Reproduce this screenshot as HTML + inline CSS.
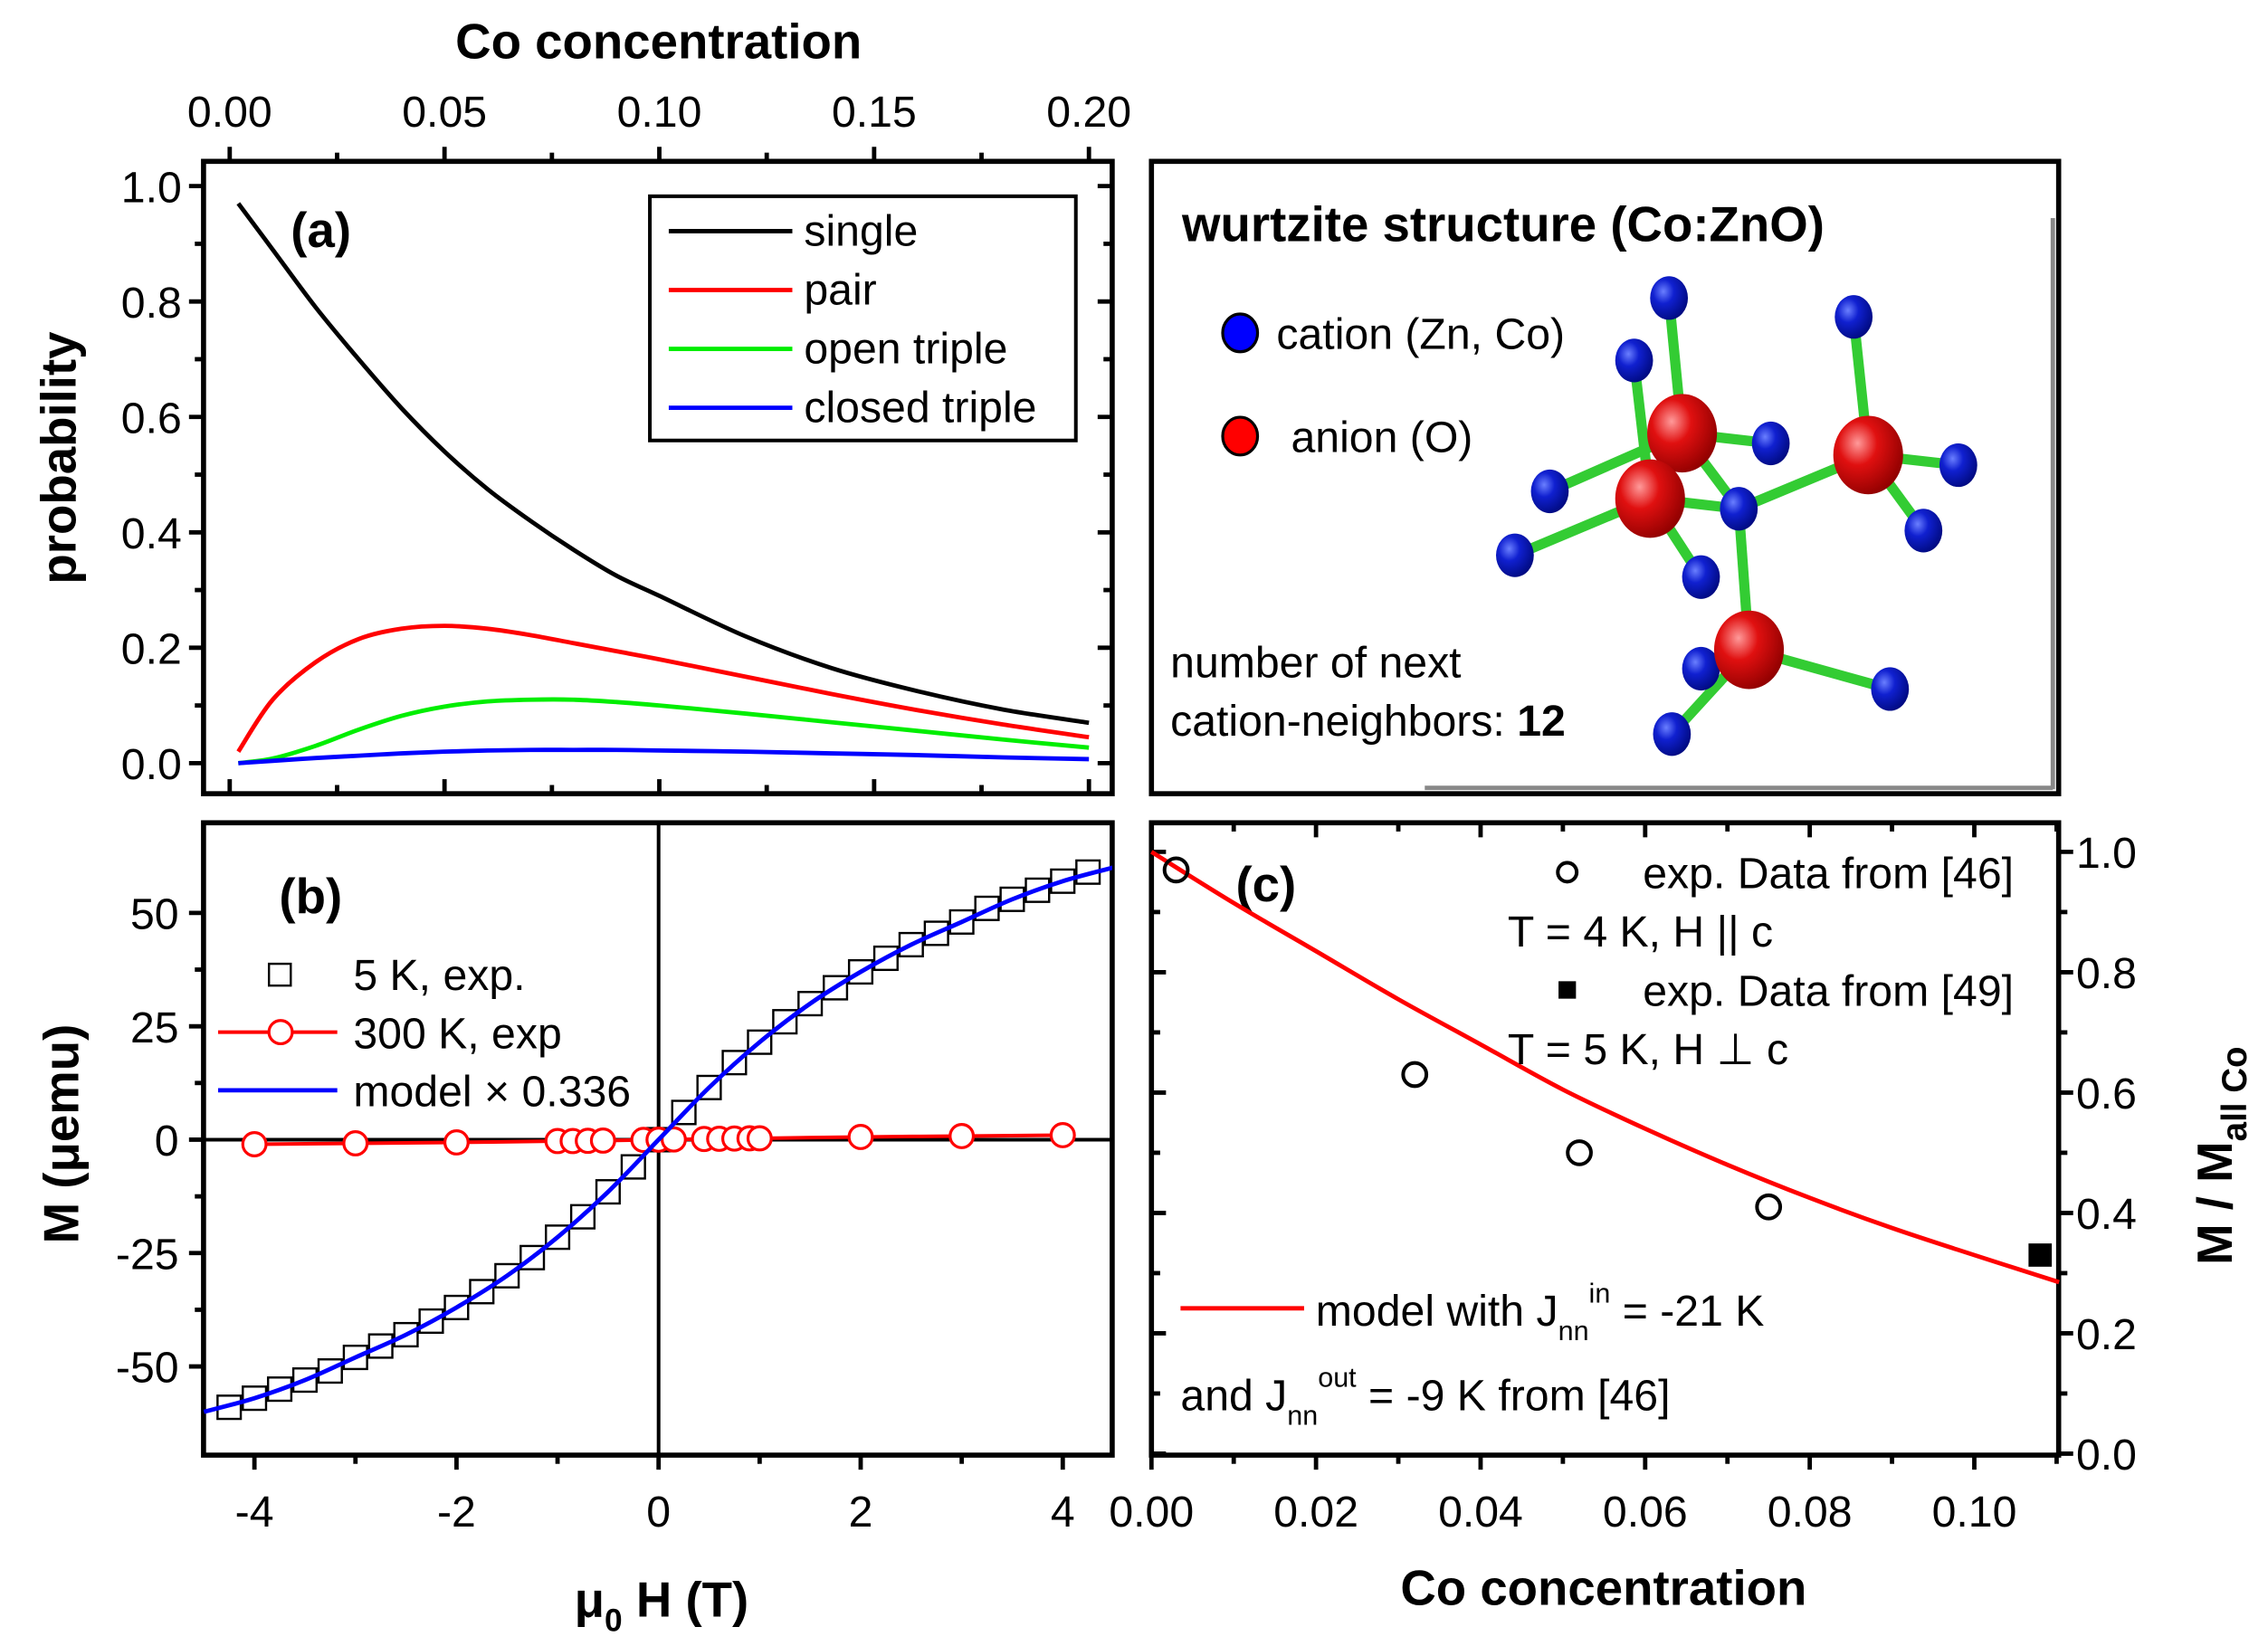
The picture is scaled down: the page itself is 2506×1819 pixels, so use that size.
<!DOCTYPE html>
<html><head><meta charset="utf-8"><style>
html,body{margin:0;padding:0;background:#fff}
svg{display:block}
text{font-family:"Liberation Sans",Arial,sans-serif;fill:#000}
.tk{font-size:30px}
.ti{font-size:34px;font-weight:bold}
.lg{font-size:30px}
</style></head><body>
<svg id="fig" xmlns="http://www.w3.org/2000/svg" width="2506" height="1819" viewBox="0 0 1560 1132.3" preserveAspectRatio="none">
<g id="gA"></g>
<g id="gS"></g>
<g id="gB"></g>
<g id="gC"></g>
</svg>
<script>
// ---------- Panel (a) data ----------
const aX = [0.002,0.01,0.02,0.03,0.04,0.05,0.06,0.07,0.08,0.09,0.10,0.12,0.14,0.16,0.18,0.20];
const aSingle = [0.97,0.89,0.79,0.70,0.615,0.54,0.475,0.42,0.37,0.325,0.29,0.22,0.165,0.125,0.093,0.07];
const aPair = [0.02,0.11,0.175,0.215,0.233,0.238,0.233,0.222,0.208,0.194,0.18,0.15,0.12,0.092,0.067,0.045];
const aOpen = [0.0,0.008,0.03,0.058,0.082,0.098,0.107,0.11,0.11,0.106,0.10,0.086,0.071,0.056,0.041,0.027];
const aClosed = [0,0.004,0.009,0.013,0.017,0.02,0.022,0.023,0.023,0.023,0.022,0.02,0.017,0.014,0.01,0.007];
const aXTicks = [0,0.05,0.10,0.15,0.20];
const aXTickLabels = ["0.00","0.05","0.10","0.15","0.20"];
const aYTicks = [0,0.2,0.4,0.6,0.8,1.0];
const aYTickLabels = ["0.0","0.2","0.4","0.6","0.8","1.0"];
// ---------- Panel (b) data ----------
const bSqH = [-4.25,-4,-3.75,-3.5,-3.25,-3,-2.75,-2.5,-2.25,-2,-1.75,-1.5,-1.25,-1,-0.75,-0.5,-0.25,0,0.25,0.5,0.75,1,1.25,1.5,1.75,2,2.25,2.5,2.75,3,3.25,3.5,3.75,4,4.25];
const bSqM = [-59,-57,-55,-53,-51,-48,-45.5,-43,-40,-37,-33.5,-30,-26,-21.5,-17,-11.5,-6,0,6,11.5,17,21.5,26,30,33.5,37,40,43,45.5,48,51,53,55,57,59];
const bModelH = [-4.5,-4,-3.5,-3,-2.5,-2,-1.5,-1,-0.5,0,0.5,1,1.5,2,2.5,3,3.5,4,4.5];
const bModelM = [-60,-57,-53,-48,-43,-37,-30,-21.5,-11.5,0,11.5,21.5,30,37,43,48,53,57,60];
const bCirH = [-4,-3,-2,-1,-0.85,-0.7,-0.55,-0.15,0,0.15,0.45,0.6,0.75,0.9,1,2,3,4];
const bCirM = [-1,-0.8,-0.6,-0.3,-0.3,-0.25,-0.2,-0.05,0,0.05,0.15,0.2,0.25,0.3,0.3,0.6,0.8,1];
const bXTicks = [-4,-2,0,2,4];
const bXTickLabels = ["-4","-2","0","2","4"];
const bYTicks = [-50,-25,0,25,50];
const bYTickLabels = ["-50","-25","0","25","50"];
// ---------- Panel (c) data ----------
const cExpX = [0.003,0.032,0.052,0.075];
const cExpY = [0.97,0.63,0.50,0.41];
const cExp2X = [0.108];
const cExp2Y = [0.33];
const cModelX = [0,0.01,0.02,0.03,0.04,0.05,0.06,0.07,0.08,0.09,0.10,0.1103];
const cModelY = [1.0,0.915,0.835,0.755,0.68,0.605,0.54,0.48,0.425,0.375,0.33,0.285];
const cXTicks = [0,0.02,0.04,0.06,0.08,0.10];
const cXTickLabels = ["0.00","0.02","0.04","0.06","0.08","0.10"];
const cYTicks = [0,0.2,0.4,0.6,0.8,1.0];
const cYTickLabels = ["0.0","0.2","0.4","0.6","0.8","1.0"];

const NS="http://www.w3.org/2000/svg";
function mk(parent,tag,attrs,txt){const e=document.createElementNS(NS,tag);for(const k in attrs)e.setAttribute(k,attrs[k]);if(txt!==undefined)e.textContent=txt;parent.appendChild(e);return e;}
function lin(d0,d1,r0,r1){return v=>r0+(v-d0)*(r1-r0)/(d1-d0);}
function pathD(xs,ys,fx,fy){
 const P=xs.map((x,i)=>[fx(x),fy(ys[i])]);
 let d='M'+P[0][0].toFixed(2)+' '+P[0][1].toFixed(2);
 for(let i=0;i<P.length-1;i++){
  const p0=P[Math.max(0,i-1)],p1=P[i],p2=P[i+1],p3=P[Math.min(P.length-1,i+2)];
  const c1=[p1[0]+(p2[0]-p0[0])/6,p1[1]+(p2[1]-p0[1])/6];
  const c2=[p2[0]-(p3[0]-p1[0])/6,p2[1]-(p3[1]-p1[1])/6];
  d+=' C'+c1[0].toFixed(2)+' '+c1[1].toFixed(2)+' '+c2[0].toFixed(2)+' '+c2[1].toFixed(2)+' '+p2[0].toFixed(2)+' '+p2[1].toFixed(2);
 }
 return d;}
function frame(g,x0,y0,x1,y1){const r=mk(g,'rect',{x:x0,y:y0,width:x1-x0,height:y1-y0,fill:'none',stroke:'#000','stroke-width':3.5});}

// ===== Panel A =====
(function(){
const g=document.getElementById('gA');
const L=140,R=765,T=111,B=546;
const fx=lin(0,0.2,158,749), fy=lin(0,1,525,128);
frame(g,L,T,R,B);
for(let i=0;i<=8;i++){const v=i*0.025,x=fx(v),len=(i%2==0)?10:6;
 const t1=mk(g,'line',{x1:x,y1:T,x2:x,y2:T-len,stroke:'#000','stroke-width':3});
 const t2=mk(g,'line',{x1:x,y1:B,x2:x,y2:B-len,stroke:'#000','stroke-width':3});}
aXTicks.forEach((v,i)=>{const t=mk(g,'text',{x:fx(v),y:87,'text-anchor':'middle',class:'tk'},aXTickLabels[i]);});
for(let i=0;i<=10;i++){const v=i*0.1,y=fy(v),len=(i%2==0)?10:6;
 const t1=mk(g,'line',{x1:L,y1:y,x2:L-len,y2:y,stroke:'#000','stroke-width':3});
 const t2=mk(g,'line',{x1:R,y1:y,x2:R-len,y2:y,stroke:'#000','stroke-width':3});}
aYTicks.forEach((v,i)=>{const t=mk(g,'text',{x:125,y:fy(v)+11,'text-anchor':'end',class:'tk'},aYTickLabels[i]);});
const tt=mk(g,'text',{x:453,y:40,'text-anchor':'middle',class:'ti'},'Co concentration');
const yt=mk(g,'text',{x:0,y:0,'text-anchor':'middle',class:'ti',transform:'translate(52,315) rotate(-90)'},'probability');
const pl=mk(g,'text',{x:200,y:170,class:'ti','font-size':36},'(a)');
const series=[[aSingle,'#000','single'],[aPair,'#f00','pair'],[aOpen,'#0e0','open triple'],[aClosed,'#00f','closed triple']];
series.forEach(s=>{const p=mk(g,'path',{d:pathD(aX,s[0],fx,fy),fill:'none',stroke:s[1],'stroke-width':3});});
const lb=mk(g,'rect',{x:447,y:135,width:293,height:168,fill:'#fff',stroke:'#000','stroke-width':2.5});
series.forEach((s,i)=>{const y=159+i*40.5;
 const ln=mk(g,'line',{x1:460,y1:y,x2:545,y2:y,stroke:s[1],'stroke-width':3});
 const t=mk(g,'text',{x:553,y:y+10,class:'lg'},s[2]);});
})();

// ===== Structure panel =====
(function(){
const g=document.getElementById('gS');
mk(g,'rect',{x:792,y:111,width:624,height:435,fill:'#fff',stroke:'#000','stroke-width':3.5});
mk(g,'line',{x1:1412,y1:150,x2:1412,y2:543,stroke:'#888','stroke-width':3});
mk(g,'line',{x1:980,y1:542,x2:1412,y2:542,stroke:'#888','stroke-width':3});
const t=mk(g,'text',{x:813,y:166,class:'ti','font-size':31},'wurtzite structure (Co:ZnO)');
const defs=mk(g,'defs',{});
const gb=mk(defs,'radialGradient',{id:'gbl',cx:'0.35',cy:'0.35',r:'0.7'});mk(gb,'stop',{offset:'0','stop-color':'#6a7fff'});mk(gb,'stop',{offset:'0.4','stop-color':'#1020d0'});mk(gb,'stop',{offset:'1','stop-color':'#000a80'});
const gr=mk(defs,'radialGradient',{id:'grd',cx:'0.35',cy:'0.35',r:'0.7'});mk(gr,'stop',{offset:'0','stop-color':'#ff9a9a'});mk(gr,'stop',{offset:'0.4','stop-color':'#e01010'});mk(gr,'stop',{offset:'1','stop-color':'#900000'});
mk(g,'ellipse',{cx:853,cy:229,rx:12,ry:13,fill:'#0000ff',stroke:'#000','stroke-width':2});
const c1=mk(g,'text',{x:878,y:240,class:'lg'},'cation (Zn, Co)');
mk(g,'ellipse',{cx:853,cy:300,rx:12,ry:13,fill:'#ff0000',stroke:'#000','stroke-width':2});
const c2=mk(g,'text',{x:888,y:311,class:'lg'},'anion (O)');
const n1=mk(g,'text',{x:805,y:466,class:'lg'},'number of next');
const n2=mk(g,'text',{x:805,y:506,class:'lg'});
n2.appendChild(document.createTextNode('cation-neighbors: '));mk(n2,'tspan',{'font-weight':'bold'},'12');
const red=[[1157,298],[1135,343],[1285,313],[1203,447]];
const blue=[[1148,205],[1124,248],[1275,218],[1218,305],[1196,350],[1066,338],[1042,382],[1170,397],[1347,320],[1323,365],[1170,460],[1300,474],[1150,505]];
const bonds=[[0,0],[0,3],[0,4],[0,5],[1,1],[1,6],[1,7],[1,4],[2,2],[2,8],[2,9],[2,4],[3,4],[3,10],[3,11],[3,12]];
bonds.forEach(b=>{const r=red[b[0]],u=blue[b[1]];mk(g,'line',{x1:r[0],y1:r[1],x2:u[0],y2:u[1],stroke:'#33cc33','stroke-width':7});});
blue.forEach(p=>mk(g,'ellipse',{cx:p[0],cy:p[1],rx:13,ry:15,fill:'url(#gbl)'}));
red.forEach(p=>mk(g,'ellipse',{cx:p[0],cy:p[1],rx:24,ry:27,fill:'url(#grd)'}));
})();

// ===== Panel B =====
(function(){
const g=document.getElementById('gB');
const L=140,R=765,T=566,B=1001;
const fx=lin(-4,4,175,731), fy=lin(0,50,784,628);
frame(g,L,T,R,B);
for(let i=-4;i<=4;i++){const x=fx(i),len=(i%2==0)?10:6;
 const t1=mk(g,'line',{x1:x,y1:B,x2:x,y2:B+len,stroke:'#000','stroke-width':3});}
bXTicks.forEach((v,i)=>{const t=mk(g,'text',{x:fx(v),y:1050,'text-anchor':'middle',class:'tk'},bXTickLabels[i]);});
for(let v=-50;v<=50;v+=12.5){const y=fy(v),len=(v%25==0)?10:6;
 const t1=mk(g,'line',{x1:L,y1:y,x2:L-len,y2:y,stroke:'#000','stroke-width':3});}
bYTicks.forEach((v,i)=>{const t=mk(g,'text',{x:123,y:fy(v)+11,'text-anchor':'end',class:'tk'},bYTickLabels[i]);});
mk(g,'line',{x1:fx(0),y1:T,x2:fx(0),y2:B,stroke:'#000','stroke-width':2.5});
mk(g,'line',{x1:L,y1:fy(0),x2:R,y2:fy(0),stroke:'#000','stroke-width':2.5});
const xt=mk(g,'text',{x:455,y:1112,'text-anchor':'middle',class:'ti'});
xt.appendChild(document.createTextNode('μ'));mk(xt,'tspan',{'font-size':22,dy:10},'0');mk(xt,'tspan',{dy:-10},' H (T)');
const yt=mk(g,'text',{x:0,y:0,'text-anchor':'middle',class:'ti',transform:'translate(54,780) rotate(-90)'},'M (μemu)');
const pl=mk(g,'text',{x:192,y:628,class:'ti','font-size':36},'(b)');
const clip=mk(g,'clipPath',{id:'clipB'});mk(clip,'rect',{x:L,y:T,width:R-L,height:B-T});
const cg=mk(g,'g',{'clip-path':'url(#clipB)'});
bSqH.forEach((h,i)=>{const s=mk(cg,'rect',{x:fx(h)-8,y:fy(bSqM[i])-8,width:16,height:16,fill:'none',stroke:'#000','stroke-width':1.5});});
const rl=mk(cg,'path',{d:pathD(bCirH,bCirM,fx,fy),fill:'none',stroke:'#f00','stroke-width':2.5});
bCirH.forEach((h,i)=>{const c=mk(cg,'circle',{cx:fx(h),cy:fy(bCirM[i]),r:8,fill:'#fff',stroke:'#f00','stroke-width':2});});
const ml=mk(cg,'path',{d:pathD(bModelH,bModelM,fx,fy),fill:'none',stroke:'#00f','stroke-width':3});
mk(g,'rect',{x:185,y:663,width:15,height:15,fill:'none',stroke:'#000','stroke-width':1.5});
const l1=mk(g,'text',{x:243,y:681,class:'lg'},'5 K, exp.');
mk(g,'line',{x1:150,y1:710,x2:232,y2:710,stroke:'#f00','stroke-width':2.5});
mk(g,'circle',{cx:193,cy:710,r:8,fill:'#fff',stroke:'#f00','stroke-width':2});
const l2=mk(g,'text',{x:243,y:721,class:'lg'},'300 K, exp');
mk(g,'line',{x1:150,y1:750,x2:232,y2:750,stroke:'#00f','stroke-width':3});
const l3=mk(g,'text',{x:243,y:761,class:'lg'},'model × 0.336');
})();

// ===== Panel C =====
(function(){
const g=document.getElementById('gC');
const L=792,R=1416,T=566,B=1001;
const fx=lin(0,0.10,792,1358), fy=lin(0,1,1000,586);
frame(g,L,T,R,B);
for(let i=0;i<=11;i++){const v=i*0.01,x=fx(v),len=(i%2==0)?10:6;
 const t1=mk(g,'line',{x1:x,y1:B,x2:x,y2:B+len,stroke:'#000','stroke-width':3});
 const t2=mk(g,'line',{x1:x,y1:T,x2:x,y2:T+len,stroke:'#000','stroke-width':3});}
cXTicks.forEach((v,i)=>{const t=mk(g,'text',{x:fx(v),y:1050,'text-anchor':'middle',class:'tk'},cXTickLabels[i]);});
for(let i=0;i<=10;i++){const v=i*0.1,y=fy(v),len=(i%2==0)?10:6;
 const t1=mk(g,'line',{x1:R,y1:y,x2:R+len,y2:y,stroke:'#000','stroke-width':3});
 const t2=mk(g,'line',{x1:L,y1:y,x2:L+len,y2:y,stroke:'#000','stroke-width':3});}
cYTicks.forEach((v,i)=>{const t=mk(g,'text',{x:1428,y:fy(v)+11,class:'tk'},cYTickLabels[i]);});
const xt=mk(g,'text',{x:1103,y:1104,'text-anchor':'middle',class:'ti'},'Co concentration');
const yt=mk(g,'text',{x:0,y:0,'text-anchor':'middle',class:'ti',transform:'translate(1535,795) rotate(-90)'});
yt.appendChild(document.createTextNode('M / M'));mk(yt,'tspan',{'font-size':24,dy:10},'all Co');
const pl=mk(g,'text',{x:850,y:620,class:'ti','font-size':36},'(c)');
const ml=mk(g,'path',{d:pathD(cModelX,cModelY,fx,fy),fill:'none',stroke:'#f00','stroke-width':3});
cExpX.forEach((x,i)=>{const c=mk(g,'circle',{cx:fx(x),cy:fy(cExpY[i]),r:8,fill:'none',stroke:'#000','stroke-width':2.5});});
cExp2X.forEach((x,i)=>{const s=mk(g,'rect',{x:fx(x)-8,y:fy(cExp2Y[i])-8,width:16,height:16,fill:'#000'});});
mk(g,'circle',{cx:1078,cy:600,r:6.5,fill:'none',stroke:'#000','stroke-width':2.5});
const e1=mk(g,'text',{x:1130,y:611,class:'lg'},'exp. Data from [46]');
const e2=mk(g,'text',{x:1037,y:651,class:'lg'},'T = 4 K, H || c');
mk(g,'rect',{x:1072,y:675,width:12,height:12,fill:'#000'});
const e3=mk(g,'text',{x:1130,y:692,class:'lg'},'exp. Data from [49]');
const e4=mk(g,'text',{x:1037,y:732,class:'lg'},'T = 5 K, H ⊥ c');
mk(g,'line',{x1:812,y1:900,x2:897,y2:900,stroke:'#f00','stroke-width':3});
const m1=mk(g,'text',{x:905,y:912,class:'lg'});
m1.appendChild(document.createTextNode('model with J'));mk(m1,'tspan',{'font-size':19,dy:10},'nn');mk(m1,'tspan',{'font-size':19,dy:-26},'in');mk(m1,'tspan',{dy:16},' = -21 K');
const m2=mk(g,'text',{x:812,y:970,class:'lg'});
m2.appendChild(document.createTextNode('and J'));mk(m2,'tspan',{'font-size':19,dy:10},'nn');mk(m2,'tspan',{'font-size':19,dy:-26},'out');mk(m2,'tspan',{dy:16},' = -9 K from [46]');
})();
</script>
</body></html>
